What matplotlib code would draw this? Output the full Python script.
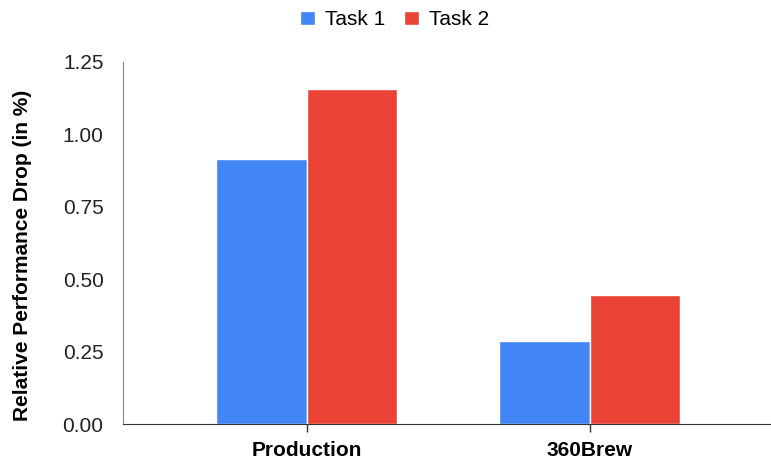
import numpy as np
import matplotlib.pyplot as plt

plt.rcParams['font.family'] = ['Liberation Sans', 'DejaVu Sans']

# datos
categorias = ["Production", "360Brew"]
series = ["Task 1", "Task 2"]
task1 = [0.915, 0.287]
task2 = [1.156, 0.446]
colores = ["#4285F4", "#EA4335"]

fig = plt.figure(figsize=(7.71, 4.66), dpi=100)
ax = fig.add_axes([123 / 771, 42 / 466, 648 / 771, 362 / 466])

x = np.arange(len(categorias))
ancho = 0.32
ax.bar(x - ancho / 2, task1, ancho, color=colores[0], label=series[0],
       edgecolor="white", linewidth=1)
ax.bar(x + ancho / 2, task2, ancho, color=colores[1], label=series[1],
       edgecolor="white", linewidth=1)

ax.set_xlim(-0.65, 1.64)
ax.set_ylim(0, 1.25)
ax.set_yticks([0, 0.25, 0.5, 0.75, 1.0, 1.25])
ax.set_yticklabels([f"{v:.2f}" for v in [0, 0.25, 0.5, 0.75, 1.0, 1.25]])
ax.set_xticks(x)
ax.set_xticklabels(categorias, fontweight="bold", fontsize=15)
ax.tick_params(axis="y", length=0, labelsize=15, pad=14, colors="#222222")
ax.tick_params(axis="x", length=6, width=1, color="#333333", pad=6)

for s in ["top", "right"]:
    ax.spines[s].set_visible(False)
ax.spines["left"].set_color("#888888")
ax.spines["bottom"].set_color("#333333")

ax.set_ylabel("Relative Performance Drop (in %)", fontweight="bold",
              fontsize=15)
ax.yaxis.set_label_coords(-0.14, 0.467)

fig.legend(loc="upper center", bbox_to_anchor=(0.512, 1.018), ncol=2,
           frameon=False, fontsize=15, handlelength=0.7, handleheight=0.7,
           handletextpad=0.5, columnspacing=0.9)

plt.savefig("out.png", dpi=100)
